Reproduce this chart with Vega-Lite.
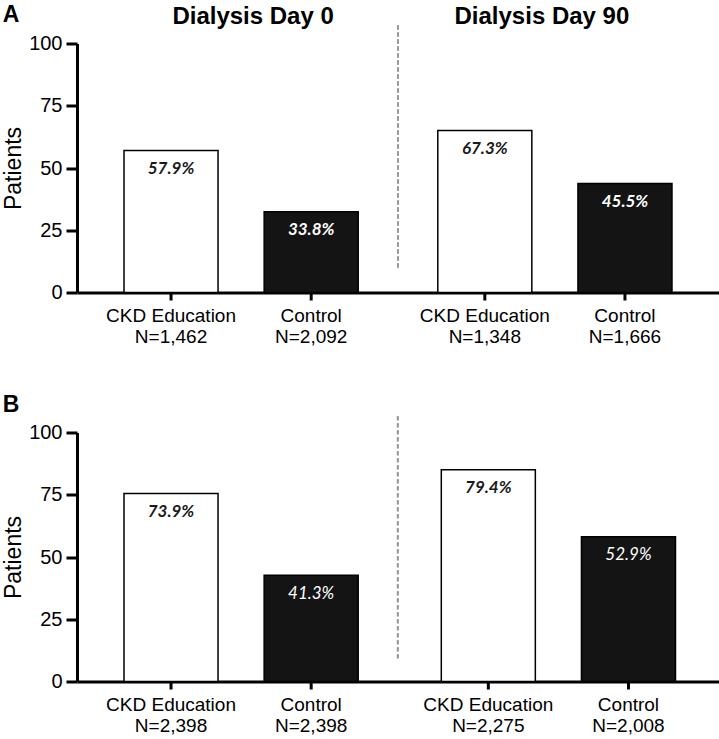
{
  "$schema": "https://vega.github.io/schema/vega-lite/v6.json",
  "background": "white",
  "padding": {"left": 2, "top": 3.5, "right": 0, "bottom": 0},
  "bounds": "flush",
  "spacing": 140,
  "config": {
    "view": {"stroke": null},
    "font": "Liberation Sans",
    "axis": {"grid": false, "domainColor": "black", "domainWidth": 3, "tickColor": "black", "tickWidth": 3, "tickSize": 11, "labelColor": "black", "labelFontSize": 20, "labelPadding": 4, "titleColor": "black", "titleFontSize": 23, "titleFontWeight": "normal", "titlePadding": 3},
    "title": {"fontSize": 23, "fontWeight": "bold", "color": "black", "anchor": "start", "frame": "bounds"}
  },
  "datasets": {
    "barsA": [
      {"day": "Day 0", "group": "CKD Education", "value": 57.0, "pct": "57.9%", "label": "CKD Education\nN=1,462"},
      {"day": "Day 0", "group": "Control", "value": 32.4, "pct": "33.8%", "label": "Control\nN=2,092"},
      {"day": "Day 90", "group": "CKD Education", "value": 65.1, "pct": "67.3%", "label": "CKD Education\nN=1,348"},
      {"day": "Day 90", "group": "Control", "value": 43.8, "pct": "45.5%", "label": "Control\nN=1,666"}
    ],
    "barsB": [
      {"day": "Day 0", "group": "CKD Education", "value": 75.5, "pct": "73.9%", "label": "CKD Education\nN=2,398"},
      {"day": "Day 0", "group": "Control", "value": 42.7, "pct": "41.3%", "label": "Control\nN=2,398"},
      {"day": "Day 90", "group": "CKD Education", "value": 85.0, "pct": "79.4%", "label": "CKD Education\nN=2,275"},
      {"day": "Day 90", "group": "Control", "value": 58.1, "pct": "52.9%", "label": "Control\nN=2,008"}
    ],
    "titles": [
      {"day": "Day 0", "title": "Dialysis Day 0"},
      {"day": "Day 90", "title": "Dialysis Day 90"}
    ]
  },
  "vconcat": [
    {
      "title": {"text": "A", "offset": -22},
      "width": 642,
      "height": 249,
      "data": {"name": "barsA"},
      "layer": [
        {
          "mark": {"type": "tick", "orient": "vertical", "size": 16, "thickness": 3, "color": "black", "opacity": 1},
          "encoding": {
            "x": {"field": "day", "type": "nominal", "scale": {"domain": ["Day 0", "Day 90"], "paddingInner": 0, "paddingOuter": 0.023}, "axis": {"labels": false, "ticks": false, "title": null}},
            "xOffset": {"field": "group", "type": "nominal", "scale": {"domain": ["CKD Education", "Control"], "paddingInner": 0.329, "paddingOuter": 0.284}},
            "y": {"datum": 0, "type": "quantitative", "scale": {"domain": [0, 100], "nice": false}, "axis": {"values": [0, 25, 50, 75, 100], "title": "Patients"}}
          }
        },
        {
          "mark": {"type": "bar", "stroke": "black", "strokeWidth": 1.5},
          "encoding": {
            "x": {"field": "day", "type": "nominal"},
            "xOffset": {"field": "group", "type": "nominal"},
            "y": {"field": "value", "type": "quantitative"},
            "fill": {"field": "group", "type": "nominal", "scale": {"domain": ["CKD Education", "Control"], "range": ["white", "#141414"]}, "legend": null}
          }
        },
        {
          "mark": {"type": "text", "font": "Lato", "fontSize": 17, "fontStyle": "italic", "fontWeight": "bold", "baseline": "middle", "dy": 18.5},
          "encoding": {
            "x": {"field": "day", "type": "nominal"},
            "xOffset": {"field": "group", "type": "nominal"},
            "y": {"field": "value", "type": "quantitative"},
            "text": {"field": "pct"},
            "color": {"condition": {"test": "datum.group === 'Control'", "value": "white"}, "value": "#1a1a1a"}
          }
        },
        {
          "mark": {"type": "text", "fontSize": 19, "baseline": "alphabetic", "dy": 29, "lineBreak": "\n", "lineHeight": 21.6, "color": "black"},
          "encoding": {
            "x": {"field": "day", "type": "nominal"},
            "xOffset": {"field": "group", "type": "nominal"},
            "y": {"datum": 0, "type": "quantitative"},
            "text": {"field": "label"}
          }
        },
        {
          "data": {"name": "titles"},
          "transform": [{"filter": "datum.day === 'Day 0'"}],
          "mark": {"type": "text", "fontSize": 24, "fontWeight": "bold", "baseline": "alphabetic", "dx": 12, "color": "black"},
          "encoding": {
            "x": {"field": "day", "type": "nominal"},
            "y": {"datum": 107.7, "type": "quantitative"},
            "text": {"field": "title"}
          }
        },
        {
          "data": {"name": "titles"},
          "transform": [{"filter": "datum.day === 'Day 90'"}],
          "mark": {"type": "text", "fontSize": 24, "fontWeight": "bold", "baseline": "alphabetic", "dx": -13, "color": "black"},
          "encoding": {
            "x": {"field": "day", "type": "nominal"},
            "y": {"datum": 107.7, "type": "quantitative"},
            "text": {"field": "title"}
          }
        },
        {
          "mark": {"type": "rule", "color": "#999999", "strokeWidth": 1.5, "strokeDash": [4, 3], "clip": false},
          "encoding": {
            "x": {"datum": "Day 0", "type": "nominal", "bandPosition": 1},
            "y": {"datum": 10, "type": "quantitative"},
            "y2": {"datum": 107.9}
          }
        }
      ]
    },
    {
      "title": {"text": "B", "offset": -4},
      "width": 642,
      "height": 249,
      "data": {"name": "barsB"},
      "layer": [
        {
          "mark": {"type": "tick", "orient": "vertical", "size": 16, "thickness": 3, "color": "black", "opacity": 1},
          "encoding": {
            "x": {"field": "day", "type": "nominal", "scale": {"domain": ["Day 0", "Day 90"], "paddingInner": 0.012, "paddingOuter": 0.01765, "align": 0.643}, "axis": {"labels": false, "ticks": false, "title": null}},
            "xOffset": {"field": "group", "type": "nominal", "scale": {"domain": ["CKD Education", "Control"], "paddingInner": 0.329, "paddingOuter": 0.284}},
            "y": {"datum": 0, "type": "quantitative", "scale": {"domain": [0, 100], "nice": false}, "axis": {"values": [0, 25, 50, 75, 100], "title": "Patients"}}
          }
        },
        {
          "mark": {"type": "bar", "stroke": "black", "strokeWidth": 1.5},
          "encoding": {
            "x": {"field": "day", "type": "nominal"},
            "xOffset": {"field": "group", "type": "nominal"},
            "y": {"field": "value", "type": "quantitative"},
            "fill": {"field": "group", "type": "nominal", "scale": {"domain": ["CKD Education", "Control"], "range": ["white", "#141414"]}, "legend": null}
          }
        },
        {
          "transform": [{"filter": "datum.group === 'CKD Education'"}],
          "mark": {"type": "text", "font": "Lato", "fontSize": 17, "fontStyle": "italic", "fontWeight": "bold", "baseline": "middle", "dy": 18.5, "color": "#1a1a1a"},
          "encoding": {
            "x": {"field": "day", "type": "nominal"},
            "xOffset": {"field": "group", "type": "nominal"},
            "y": {"field": "value", "type": "quantitative"},
            "text": {"field": "pct"}
          }
        },
        {
          "transform": [{"filter": "datum.group === 'Control'"}],
          "mark": {"type": "text", "font": "Lato", "fontSize": 17, "fontStyle": "italic", "fontWeight": "normal", "baseline": "middle", "dy": 18.5, "color": "white"},
          "encoding": {
            "x": {"field": "day", "type": "nominal"},
            "xOffset": {"field": "group", "type": "nominal"},
            "y": {"field": "value", "type": "quantitative"},
            "text": {"field": "pct"}
          }
        },
        {
          "mark": {"type": "text", "fontSize": 19, "baseline": "alphabetic", "dy": 29, "lineBreak": "\n", "lineHeight": 21.6, "color": "black"},
          "encoding": {
            "x": {"field": "day", "type": "nominal"},
            "xOffset": {"field": "group", "type": "nominal"},
            "y": {"datum": 0, "type": "quantitative"},
            "text": {"field": "label"}
          }
        },
        {
          "mark": {"type": "rule", "color": "#999999", "strokeWidth": 1.5, "strokeDash": [4, 3], "clip": false},
          "encoding": {
            "x": {"datum": "Day 0", "type": "nominal", "bandPosition": 1},
            "y": {"datum": 9.3, "type": "quantitative"},
            "y2": {"datum": 107.7}
          }
        }
      ]
    }
  ]
}
